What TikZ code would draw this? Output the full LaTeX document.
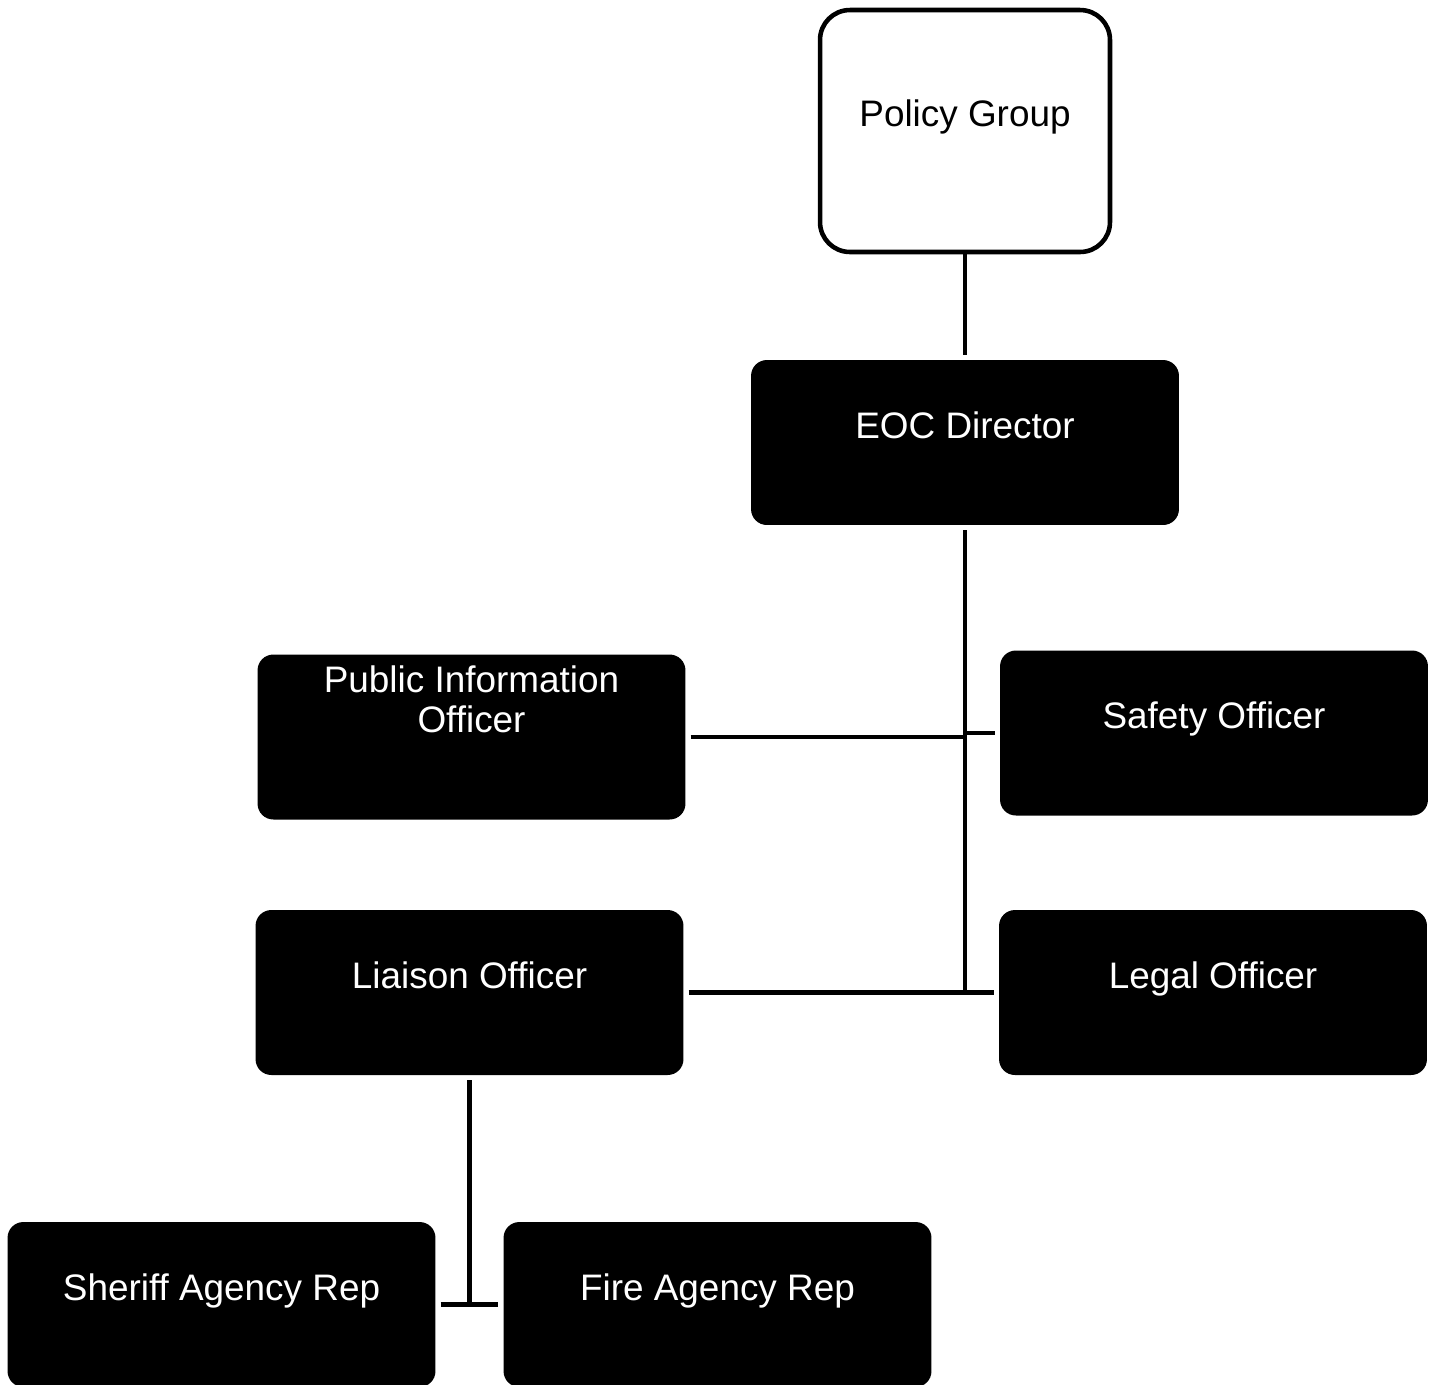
\documentclass[tikz,border=0pt]{standalone}
\usepackage{fontspec}
\setmainfont{Liberation Sans}
\begin{document}
\begin{tikzpicture}[x=0.02cm,y=-0.02cm,
		box/.style={rectangle,rounded corners=9pt,fill=black,text=white,minimum width=8.56cm,minimum height=3.3cm,text height=10pt,text depth=14.6pt,align=center,outer sep=3pt,font=\fontsize{21}{22.8}\selectfont},
		topbox/.style={box,fill=white,text=black,draw=black,line width=2.6pt,rounded corners=17pt,minimum width=5.8cm,minimum height=4.84cm,outer sep=1.3pt},
		link/.style={line width=2.6pt}]
	\useasboundingbox (0,0) rectangle (1436,1384);
	\node[topbox] (policy) at (965,131) {Policy Group};
	\node[box] (eoc) at (965,442.5) {EOC Director};
	\node[box] (pio) at (471.5,737) {Public Information\\Officer};
	\node[box] (safety) at (1214,733) {Safety Officer};
	\node[box] (liaison) at (469.5,992.5) {Liaison Officer};
	\node[box] (legal) at (1213,992.5) {Legal Officer};
	\node[box] (sheriff) at (221.5,1304.5) {Sheriff Agency Rep};
	\node[box] (fire) at (717.5,1304.5) {Fire Agency Rep};
	\coordinate (j1) at (965,737);
	\coordinate (j2) at (965,992.5);
	\coordinate (j3) at (469.5,1304.5);
	\draw[link] (policy) -- (eoc);
	\draw[link] (eoc) -- (j2);
	\draw[link] (pio) -- (j1) (safety.west) -- (safety.west -| j1);
	\draw[link] (liaison) -- (legal);
	\draw[link] (liaison) -- (j3);
	\draw[link] (sheriff) -- (fire);
\end{tikzpicture}
\end{document}
